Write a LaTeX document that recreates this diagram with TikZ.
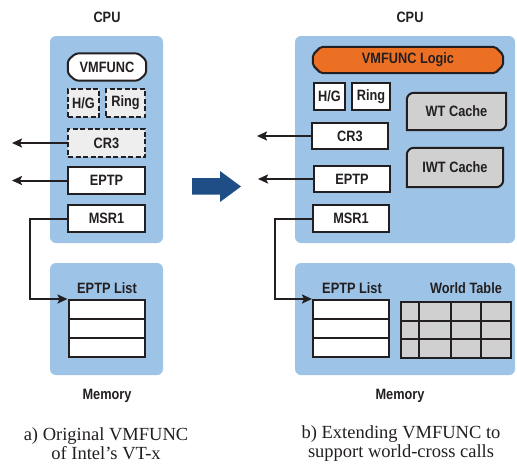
\documentclass[tikz,border=0pt]{standalone}
\usepackage{fontspec}
\newfontfamily\lblfont{Liberation Sans}[FakeStretch=0.85]
\newfontfamily\capfont{Liberation Serif}
\usepackage{tikz}
\usetikzlibrary{arrows.meta,backgrounds}

\definecolor{cpublue}{RGB}{157,195,230}
\definecolor{logicorange}{RGB}{236,112,36}
\definecolor{cachegray}{RGB}{208,208,208}
\definecolor{dashgray}{RGB}{238,238,238}
\definecolor{moveblue}{RGB}{31,78,135}
\definecolor{inkgray}{RGB}{35,31,32}

\begin{document}
\begin{tikzpicture}[x=1pt,y=-1pt,
  every node/.style={font=\lblfont\bfseries\fontsize{15}{17}\selectfont,text=inkgray,inner sep=0pt},
  regbox/.style={draw=inkgray,line width=2pt,fill=white},
  dashbox/.style={regbox,fill=dashgray,dash pattern=on 5pt off 2.5pt},
  cellbox/.style={regbox,minimum width=76pt,minimum height=19pt},
  gridcell/.style={draw=inkgray,line width=2pt,fill=cachegray,minimum height=18.5pt},
  chamfer/.style={draw=inkgray,line width=2pt,rounded corners=3pt},
  cachebox/.style={draw=inkgray,line width=2pt,fill=cachegray},
  ptr/.style={draw=inkgray,line width=2pt,-{Stealth[length=10pt,width=9pt,inset=2pt]}},
  caption/.style={font=\capfont\fontsize{18.5}{19.5}\selectfont,align=center,text=inkgray}]

 \useasboundingbox (0,0) rectangle (517,464);

 % background panels
 \begin{scope}[on background layer]
  \fill[cpublue,rounded corners=6pt] (50,36) rectangle (163,243);
  \fill[cpublue,rounded corners=6pt] (50,263) rectangle (163,375);
  \fill[cpublue,rounded corners=6pt] (295,36) rectangle (515,243);
  \fill[cpublue,rounded corners=6pt] (295,263) rectangle (515,375);
 \end{scope}

 % a) original VMFUNC
 \node (cpuA) at (107,17) {CPU};
 \node[minimum width=78pt,minimum height=27pt] (vmfA) at (107,67) {VMFUNC};
 \node[dashbox,minimum width=31pt,minimum height=28pt] (hgA) at (83.5,103) {H/G};
 \node[dashbox,minimum width=39pt,minimum height=28pt] (ringA) at (125.5,103) {Ring};
 \node[dashbox,minimum width=77pt,minimum height=28pt] (cr3A) at (106.5,143) {CR3};
 \node[regbox,minimum width=77pt,minimum height=27pt] (eptpA) at (106.5,180.5) {EPTP};
 \node[regbox,minimum width=77pt,minimum height=27pt] (msrA) at (106.5,218.5) {MSR1};

 \node (listlblA) at (107,288) {EPTP List};
 \foreach \r in {1,2,3}
   \node[cellbox] (listA\r) at (106.5,{290.5+19*\r}) {};
 \node (memA) at (107,396) {Memory};
 \node[caption] (capA) at (106,443.5) {a) Original VMFUNC\\of Intel’s VT-x};

 \coordinate (outA1) at (12,143);
 \coordinate (outA2) at (12,180.5);
 \draw[ptr] (cr3A.west) -- (outA1);
 \draw[ptr] (eptpA.west) -- (outA2);
 \draw[ptr] (msrA.west) -- ++(-37,0) |- (listA1.north west);

 % move arrow
 \fill[moveblue] (192,178) -- (220,178) -- (220,171) -- (241,186.5)
   -- (220,202) -- (220,194.5) -- (192,194.5) -- cycle;

 % b) extended VMFUNC
 \node (cpuB) at (410,17) {CPU};
 \node[minimum width=190pt,minimum height=26pt] (vmfB) at (408,60) {VMFUNC Logic};
 \node[regbox,minimum width=31pt,minimum height=27pt] (hgB) at (329.5,96.5) {H/G};
 \node[regbox,minimum width=38pt,minimum height=27pt] (ringB) at (371,96.5) {Ring};
 \node[regbox,minimum width=76pt,minimum height=26pt] (cr3B) at (350,136) {CR3};
 \node[regbox,minimum width=76pt,minimum height=26pt] (eptpB) at (352,179) {EPTP};
 \node[regbox,minimum width=76pt,minimum height=27pt] (msrB) at (351,218.5) {MSR1};
 \node[minimum width=99pt,minimum height=37pt] (wtB) at (456.5,111.5) {WT Cache};
 \node[minimum width=96pt,minimum height=39pt] (iwtB) at (455,167.5) {IWT Cache};

 \node (listlblB) at (352,288) {EPTP List};
 \foreach \r in {1,2,3}
   \node[cellbox] (listB\r) at (351,{290.5+19*\r}) {};
 \node (worldlbl) at (466,288) {World Table};
 \foreach \c/\cx/\cw in {1/410/18,2/435/32,3/466/30,4/496/30}
   \foreach \r in {1,2,3}
     \node[gridcell,minimum width=\cw pt] (wtab\r\c) at (\cx,{292.75+18.5*\r}) {};
 \node (memB) at (400,396) {Memory};
 \node[caption] (capB) at (401,443.5) {b) Extending VMFUNC to\\support world-cross calls};

 \coordinate (outB1) at (257,136);
 \coordinate (outB2) at (258,179);
 \draw[ptr] (cr3B.west) -- (outB1);
 \draw[ptr] (eptpB.west) -- (outB2);
 \draw[ptr] (msrB.west) -- ++(-37,0) |- (listB1.north west);

 % shapes behind the labels
 \begin{scope}[on background layer]
  \draw[chamfer,fill=white] ([xshift=8pt]vmfA.north west) -- ([xshift=-8pt]vmfA.north east)
    -- ([yshift=-7pt]vmfA.north east) -- ([yshift=7pt]vmfA.south east)
    -- ([xshift=-8pt]vmfA.south east) -- ([xshift=8pt]vmfA.south west)
    -- ([yshift=7pt]vmfA.south west) -- ([yshift=-7pt]vmfA.north west) -- cycle;
  \draw[chamfer,fill=logicorange,rounded corners=2pt] ([xshift=8pt]vmfB.north west) -- ([xshift=-8pt]vmfB.north east)
    -- ([yshift=-8pt]vmfB.north east) -- ([yshift=8pt]vmfB.south east)
    -- ([xshift=-8pt]vmfB.south east) -- ([xshift=8pt]vmfB.south west)
    -- ([yshift=8pt]vmfB.south west) -- ([yshift=-8pt]vmfB.north west) -- cycle;
  \foreach \k in {wtB,iwtB}
    \draw[cachebox] (\k.west) [rounded corners=7pt] -- (\k.north west) [sharp corners]
      -- (\k.north east) -- (\k.east) [rounded corners=7pt] -- (\k.south east)
      [sharp corners] -- (\k.south west) -- cycle;
 \end{scope}
\end{tikzpicture}
\end{document}
